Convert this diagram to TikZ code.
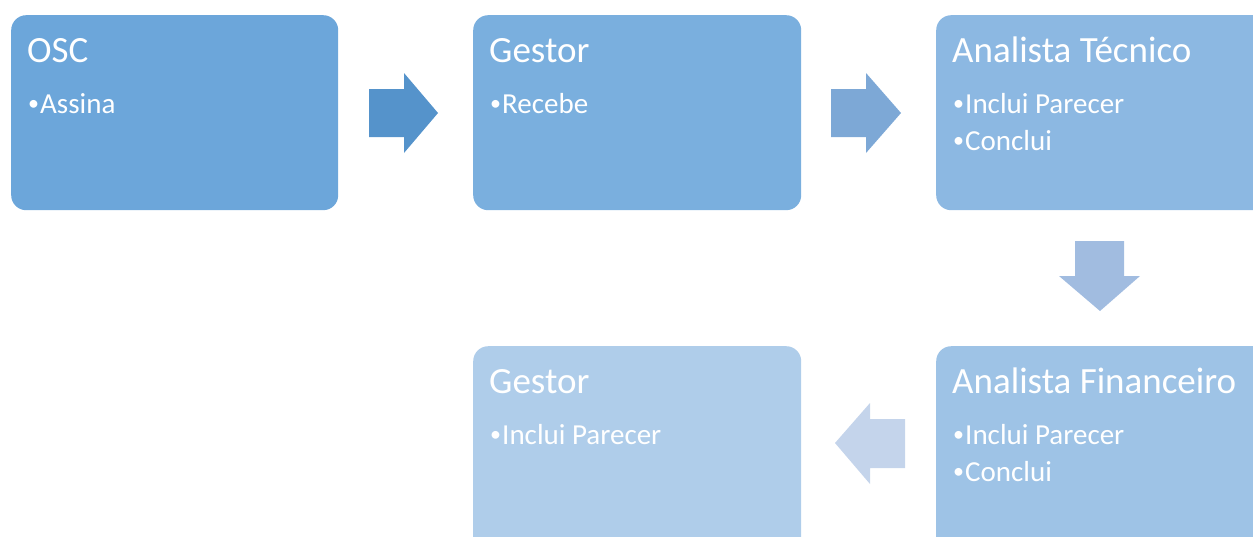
\documentclass[tikz,border=0pt]{standalone}
\usepackage{fontspec}
\setmainfont{Carlito}
\usetikzlibrary{positioning}
\definecolor{cA}{HTML}{6CA6DA}
\definecolor{cB}{HTML}{7AAFDE}
\definecolor{cC}{HTML}{8CB8E2}
\definecolor{cD}{HTML}{9EC3E6}
\definecolor{cE}{HTML}{AFCDEA}
\definecolor{aA}{HTML}{5593CB}
\definecolor{aB}{HTML}{7DA8D6}
\definecolor{aC}{HTML}{A1BCE0}
\definecolor{aD}{HTML}{C4D4EB}
\newcommand{\blt}{\makebox[12pt][l]{\fontsize{22}{22}\selectfont\raisebox{2.5pt}{•}}}
\tikzset{
  box/.style={rectangle, rounded corners=15pt, draw=none, anchor=north west, inner sep=0pt},
  ttl/.style={anchor=base west, inner sep=0pt, text=white, font=\fontsize{37}{44}\selectfont},
  bul/.style={anchor=base west, inner sep=0pt, text=white, font=\fontsize{29}{35}\selectfont},
}
\begin{document}
\begin{tikzpicture}[x=1pt,y=-1pt]
\useasboundingbox (0,0) rectangle (1253,536);
\clip (0,0) rectangle (1253,536);
% boxes
\node[box, fill=cA, minimum width=327pt, minimum height=195pt] (osc) at (11,15) {};
\node[box, fill=cB, minimum width=328pt, minimum height=195pt] (g1) at (473,15) {};
\node[box, fill=cC, minimum width=340pt, minimum height=195pt] (at) at (936,15) {};
\node[box, fill=cD, minimum width=340pt, minimum height=210pt] (af) at (936,346) {};
\node[box, fill=cE, minimum width=328pt, minimum height=210pt] (g2) at (473,346) {};
% arrows
\fill[aA] (369,89) -- (404,89) -- (404,73) -- (438,113) -- (404,153) -- (404,137) -- (369,137) -- cycle;
\fill[aB] (831,89) -- (866,89) -- (866,73) -- (901,113) -- (866,153) -- (866,137) -- (831,137) -- cycle;
\fill[aC] (1075,241) -- (1124,241) -- (1124,276) -- (1140,276) -- (1100,311) -- (1059,276) -- (1075,276) -- cycle;
\fill[aD] (905,419) -- (870,419) -- (870,403) -- (835,443) -- (870,484) -- (870,468) -- (905,468) -- cycle;
% texts
\node[ttl] (t1) at (27,62) {OSC};
\node[bul] (b1) at (28,113) {\blt Assina};
\node[ttl] (t2) at (489,62) {Gestor};
\node[bul] (b2) at (490,113) {\blt Recebe};
\node[ttl] (t3) at (952,62) {Analista Técnico};
\node[bul] (b3) at (953,113) {\blt Inclui Parecer};
\node[bul] (b3b) at (953,150) {\blt Conclui};
\node[ttl] (t4) at (952,393) {Analista Financeiro};
\node[bul] (b4) at (953,444) {\blt Inclui Parecer};
\node[bul] (b4b) at (953,481) {\blt Conclui};
\node[ttl] (t5) at (489,393) {Gestor};
\node[bul] (b5) at (490,444) {\blt Inclui Parecer};
\end{tikzpicture}
\end{document}
